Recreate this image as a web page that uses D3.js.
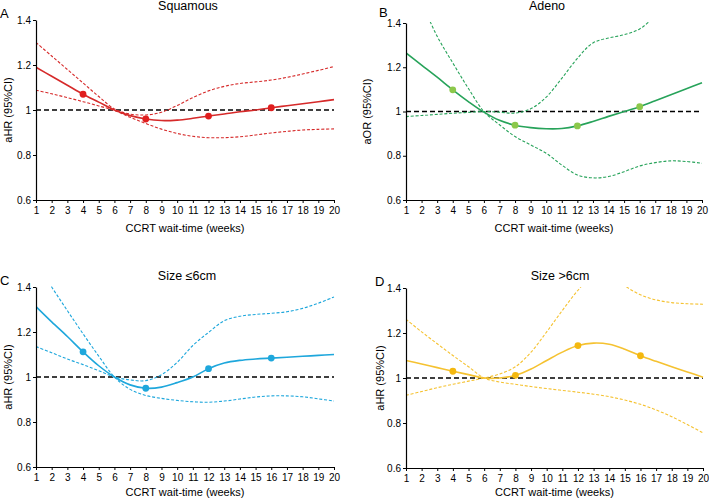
<html><head>
<script src="https://d3js.org/d3.v7.min.js"></script>
<style>
  body { margin: 0; background: #fff; }
  svg { font-family: "Liberation Sans", Arial, sans-serif; }
  .tick text { font-size: 10px; fill: #000; }
  .ref { stroke: #000; stroke-width: 1.3; stroke-dasharray: 5,3; }
</style>
</head>
<body>
<script>
// weeks on the x axis, y ticks
const weeks = [1,2,3,4,5,6,7,8,9,10,11,12,13,14,15,16,17,18,19,20];
const dotWeeks = [4,8,12,16];
const yTicks = [0.6,0.8,1,1.2,1.4];

// A - Squamous
const squamousHR = [1.19,1.15,1.11,1.07,1.035,1.0,0.975,0.96,0.953,0.955,0.963,0.973,0.982,0.992,1.0,1.01,1.019,1.028,1.037,1.046];
const squamousUp = [1.30,1.24,1.18,1.12,1.06,1.005,0.982,0.978,0.99,1.02,1.055,1.085,1.105,1.118,1.125,1.133,1.145,1.16,1.176,1.193];
const squamousLo = [1.088,1.072,1.055,1.037,1.018,0.998,0.968,0.94,0.915,0.896,0.883,0.877,0.877,0.881,0.889,0.898,0.905,0.911,0.914,0.916];

// B - Adeno
const adenoOR  = [1.265,1.21,1.155,1.098,1.045,0.997,0.96,0.938,0.927,0.922,0.923,0.935,0.955,0.978,1.0,1.022,1.049,1.076,1.103,1.13];
const adenoCI1 = [1.62,1.49,1.34,1.22,1.105,1.0,0.94,0.887,0.849,0.811,0.758,0.713,0.70,0.706,0.728,0.754,0.769,0.777,0.774,0.766];
const adenoCI2 = [0.977,0.982,0.987,0.992,0.996,1.0,0.997,0.993,1.012,1.065,1.15,1.24,1.31,1.332,1.347,1.373,1.43,1.48,1.53,1.58];

// C - Size <=6cm
const smallHR  = [1.313,1.245,1.18,1.112,1.05,1.0,0.965,0.95,0.955,0.975,1.0,1.037,1.062,1.074,1.08,1.084,1.088,1.092,1.096,1.1];
const smallCI1 = [1.51,1.40,1.295,1.192,1.093,1.0,0.945,0.918,0.905,0.896,0.89,0.888,0.893,0.902,0.911,0.916,0.916,0.912,0.903,0.893];
const smallCI2 = [1.135,1.108,1.08,1.055,1.028,1.0,0.987,0.984,1.01,1.065,1.14,1.198,1.25,1.27,1.278,1.283,1.29,1.305,1.328,1.356];

// D - Size >6cm
const largeHR  = [1.078,1.062,1.046,1.03,1.015,1.0,1.0,1.012,1.04,1.078,1.115,1.144,1.155,1.15,1.128,1.099,1.074,1.05,1.027,1.003];
const largeCI1 = [1.261,1.205,1.152,1.1,1.05,1.0,0.982,0.972,0.962,0.953,0.945,0.937,0.928,0.917,0.902,0.883,0.858,0.828,0.793,0.756];
const largeCI2 = [0.923,0.94,0.957,0.972,0.986,1.0,1.018,1.05,1.115,1.205,1.30,1.39,1.46,1.47,1.41,1.37,1.347,1.335,1.33,1.328];

const panels = [
  {id:"a", letter:"A", title:"Squamous", ylab:"aHR (95%CI)", mid:squamousHR, ci:[squamousUp, squamousLo],
   line:"#d62a2a", dot:"#e01e1e", x0:36, x1:334, y0:20, y1:200,
   titleX:188, titleY:10, ylabX:8, letterX:0, letterY:18, xlabY:232},
  {id:"b", letter:"B", title:"Adeno", ylab:"aOR (95%CI)", mid:adenoOR, ci:[adenoCI1, adenoCI2],
   line:"#27a35a", dot:"#8cc84b", x0:406, x1:702, y0:23, y1:200,
   titleX:547, titleY:10, ylabX:367, letterX:379, letterY:17, xlabY:232},
  {id:"c", letter:"C", title:"Size \u22646cm", ylab:"aHR (95%CI)", mid:smallHR, ci:[smallCI1, smallCI2],
   line:"#1ea7dc", dot:"#1ea7dc", x0:36, x1:334, y0:287, y1:467,
   titleX:187, titleY:280, ylabX:8, letterX:0, letterY:285, xlabY:496},
  {id:"d", letter:"D", title:"Size >6cm", ylab:"aHR (95%CI)", mid:largeHR, ci:[largeCI1, largeCI2],
   line:"#f5c231", dot:"#f4b80f", x0:406, x1:703, y0:288, y1:468,
   titleX:560, titleY:280, ylabX:380, letterX:375, letterY:286, xlabY:496}
];

const svg = d3.select("body").append("svg")
  .attr("width", 709)
  .attr("height", 500);

panels.forEach(p => {
  const x = d3.scaleLinear().domain([1, 20]).range([p.x0, p.x1]);
  const y = d3.scaleLinear().domain([0.6, 1.4]).range([p.y1, p.y0]);
  const g = svg.append("g");

  g.append("clipPath").attr("id", "clip-" + p.id)
    .append("rect")
    .attr("x", p.x0).attr("y", p.y0 - 1)
    .attr("width", p.x1 - p.x0 + 1).attr("height", p.y1 - p.y0 + 1);

  // reference line at 1
  g.append("line").attr("class", "ref")
    .attr("x1", x(1)).attr("x2", x(20))
    .attr("y1", y(1)).attr("y2", y(1));

  const line = d3.line()
    .x((d, i) => x(weeks[i]))
    .y(d => y(d))
    .curve(d3.curveCatmullRom.alpha(0.5));

  const plot = g.append("g").attr("clip-path", "url(#clip-" + p.id + ")");

  p.ci.forEach(c => {
    plot.append("path").datum(c)
      .attr("d", line)
      .attr("fill", "none")
      .attr("stroke", p.line)
      .attr("stroke-width", 1.1)
      .attr("stroke-dasharray", "3,1.8");
  });

  plot.append("path").datum(p.mid)
    .attr("d", line)
    .attr("fill", "none")
    .attr("stroke", p.line)
    .attr("stroke-width", 1.6);

  plot.selectAll("circle").data(dotWeeks)
    .join("circle")
    .attr("cx", d => x(d))
    .attr("cy", d => y(p.mid[weeks.indexOf(d)]))
    .attr("r", 3.4)
    .attr("fill", p.dot);

  // axes
  const xAxis = d3.axisBottom(x).tickValues(weeks).tickSize(3).tickSizeOuter(0).tickPadding(4);
  const yAxis = d3.axisLeft(y).tickValues(yTicks).tickSize(3).tickSizeOuter(0).tickPadding(2)
    .tickFormat(d => String(+d.toFixed(1)));

  g.append("g").attr("transform", "translate(0," + p.y1 + ")").call(xAxis)
    .call(a => a.select(".domain").attr("stroke", "#000").attr("stroke-width", 1.2));
  g.append("g").attr("transform", "translate(" + p.x0 + ",0)").call(yAxis)
    .call(a => a.select(".domain").attr("stroke", "#000").attr("stroke-width", 1.2));

  // texts
  g.append("text")
    .attr("x", (p.x0 + p.x1) / 2).attr("y", p.xlabY)
    .attr("text-anchor", "middle")
    .style("font-size", "11px")
    .text("CCRT wait-time (weeks)");

  g.append("text")
    .attr("transform", "translate(" + p.ylabX + "," + (p.y0 + p.y1) / 2 + ") rotate(-90)")
    .attr("text-anchor", "middle")
    .attr("dy", "0.35em")
    .style("font-size", "11px")
    .text(p.ylab);

  g.append("text")
    .attr("x", p.titleX).attr("y", p.titleY)
    .attr("text-anchor", "middle")
    .style("font-size", "12.5px")
    .text(p.title);

  g.append("text")
    .attr("x", p.letterX).attr("y", p.letterY)
    .style("font-size", "13px")
    .text(p.letter);
});
</script>
</body></html>
